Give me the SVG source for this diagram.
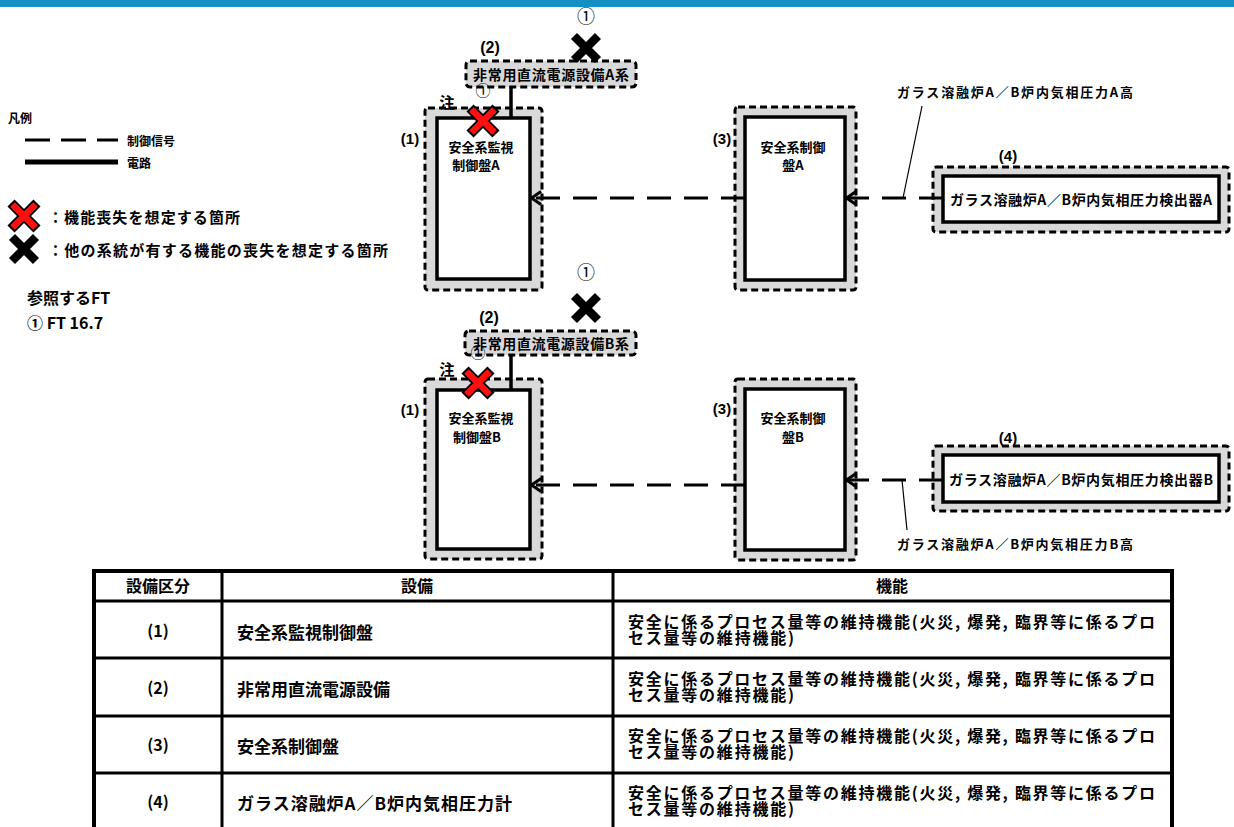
<svg xmlns="http://www.w3.org/2000/svg" xmlns:xlink="http://www.w3.org/1999/xlink" width="1234" height="827" viewBox="0 0 1234 827">
<style>
text{font-family:"Noto Sans CJK JP","Liberation Sans",sans-serif;font-weight:700;fill:#000}
.lbl{font-size:13px;text-anchor:middle;dominant-baseline:central}
.num{font-size:14px;text-anchor:middle;dominant-baseline:central;font-family:"Liberation Sans","Noto Sans CJK JP",sans-serif}
.leg{font-size:12px;dominant-baseline:central}
.leg2{font-size:15px;dominant-baseline:central}
.tb{font-size:17px;dominant-baseline:central}
.tbc{font-size:16px;dominant-baseline:central;text-anchor:middle}
.fn{font-size:16px;dominant-baseline:central}
.outer{fill:#d9d9d9;stroke:#000;stroke-width:3;stroke-dasharray:7 4}
.inner{fill:#fff;stroke:#000;stroke-width:3.5}
.sig{stroke:#000;stroke-width:3;stroke-dasharray:24 13;fill:none}
.pow{stroke:#000;stroke-width:3.5;fill:none}
.lead{stroke:#000;stroke-width:1.2;fill:none}
.tl{stroke:#000;stroke-width:3;fill:none}
</style>
<defs>
<marker id="arr" viewBox="0 0 13 16" refX="12" refY="8" markerWidth="13" markerHeight="16" orient="auto" markerUnits="userSpaceOnUse">
<path d="M2,1.5 L11.5,8 L2,14.5" style="fill:none;stroke:#000;stroke-width:3;stroke-dasharray:none"/>
</marker>
<g id="xred">
<path d="M-13,-13 L13,13 M13,-13 L-13,13" stroke="#000" stroke-width="10"/>
<path d="M-11.5,-11.5 L11.5,11.5 M11.5,-11.5 L-11.5,11.5" stroke="#ff1010" stroke-width="6.5"/>
</g>
<g id="xblk">
<path d="M-12,-12 L12,12 M12,-12 L-12,12" stroke="#000" stroke-width="8.5"/>
</g>
</defs>
<rect x="0" y="0" width="1234" height="827" fill="#fff"/>
<rect x="0" y="0" width="1234" height="7" fill="#1590c2"/>

<g id="legend">
<text x="8" y="117" class="leg">凡例</text>
<line x1="25" y1="140" x2="118" y2="140" stroke="#000" stroke-width="3" stroke-dasharray="25 11"/>
<text x="127" y="140" class="leg">制御信号</text>
<line x1="25" y1="162" x2="118" y2="162" stroke="#000" stroke-width="5"/>
<text x="127" y="162" class="leg">電路</text>
<use xlink:href="#xred" x="24" y="216"/>
<text x="48" y="216" class="leg2" textLength="192">：機能喪失を想定する箇所</text>
<use xlink:href="#xblk" x="24" y="249"/>
<text x="48" y="249" class="leg2" textLength="340">：他の系統が有する機能の喪失を想定する箇所</text>
<text x="27" y="297" style="font-size:16px;dominant-baseline:central">参照するFT</text>
<text x="27" y="322" style="font-size:16px;dominant-baseline:central">① FT 16.7</text>
</g>

<g id="power-a">
<rect x="466" y="61" width="170" height="26" rx="4" class="outer"/>
<text x="551" y="74" class="lbl" style="font-size:14px" textLength="156">非常用直流電源設備A系</text>
<text x="490" y="47" class="num" style="font-size:16px">(2)</text>
</g>
<g id="fault-a">
<text x="586" y="17" class="num" style="font-size:18px;font-weight:400">①</text>
<use xlink:href="#xblk" x="586" y="48"/>
</g>
<g id="panel1-a">
<rect x="425" y="108" width="117" height="182" rx="3" class="outer"/>
<rect x="437" y="118" width="93" height="161" class="inner"/>
<text x="481" y="146" class="lbl">安全系監視</text>
<text x="476" y="164" class="lbl">制御盤A</text>
<text x="410" y="138" class="num" style="font-size:15px">(1)</text>
<text x="447" y="101" class="lbl" style="font-size:15px">注</text>
<text x="483" y="90" class="num" style="font-size:15px;font-weight:400">①</text>
<use xlink:href="#xred" x="483" y="121"/>
</g>
<g id="panel3-a">
<rect x="735" y="107" width="121" height="183" rx="3" class="outer"/>
<rect x="745" y="117" width="100" height="163" class="inner"/>
<text x="793" y="146" class="lbl">安全系制御</text>
<text x="793" y="164" class="lbl">盤A</text>
<text x="722" y="138" class="num" style="font-size:15px">(3)</text>
</g>
<g id="detector-a">
<rect x="933" y="167" width="296" height="65" rx="3" class="outer"/>
<rect x="943" y="176" width="276" height="46" class="inner"/>
<text x="1081" y="199" class="lbl" style="font-size:14px" textLength="262">ガラス溶融炉A／B炉内気相圧力検出器A</text>
<text x="1008" y="155" class="num" style="font-size:15px">(4)</text>
<text x="1015" y="91" class="lbl" style="font-size:13px" textLength="236">ガラス溶融炉A／B炉内気相圧力A高</text>
</g>

<g id="power-b">
<rect x="465" y="331" width="171" height="24" rx="4" class="outer"/>
<text x="551" y="343" class="lbl" style="font-size:14px" textLength="156">非常用直流電源設備B系</text>
<text x="489" y="317" class="num" style="font-size:16px">(2)</text>
</g>
<g id="fault-b">
<text x="586" y="273" class="num" style="font-size:18px;font-weight:400">①</text>
<use xlink:href="#xblk" x="586" y="308"/>
</g>
<g id="panel1-b">
<rect x="425" y="379" width="117" height="180" rx="3" class="outer"/>
<rect x="437" y="390" width="93" height="159" class="inner"/>
<text x="481" y="417" class="lbl">安全系監視</text>
<text x="477" y="436" class="lbl">制御盤B</text>
<text x="410" y="409" class="num" style="font-size:15px">(1)</text>
<text x="447" y="368" class="lbl" style="font-size:15px">注</text>
<text x="478" y="352" class="num" style="font-size:15px;font-weight:400">①</text>
<use xlink:href="#xred" x="478" y="383"/>
</g>
<g id="panel3-b">
<rect x="735" y="379" width="121" height="181" rx="3" class="outer"/>
<rect x="745" y="389" width="100" height="161" class="inner"/>
<text x="793" y="417" class="lbl">安全系制御</text>
<text x="793" y="436" class="lbl">盤B</text>
<text x="722" y="408" class="num" style="font-size:15px">(3)</text>
</g>
<g id="detector-b">
<rect x="933" y="446" width="296" height="65" rx="3" class="outer"/>
<rect x="943" y="455" width="276" height="47" class="inner"/>
<text x="1081" y="479" class="lbl" style="font-size:14px" textLength="264">ガラス溶融炉A／B炉内気相圧力検出器B</text>
<text x="1008" y="437" class="num" style="font-size:15px">(4)</text>
<text x="1015" y="543" class="lbl" style="font-size:13px" textLength="236">ガラス溶融炉A／B炉内気相圧力B高</text>
</g>

<g id="connectors">
<line x1="511" y1="87" x2="511" y2="118" class="pow"/>
<line x1="511" y1="355" x2="511" y2="390" class="pow"/>
<line x1="745" y1="198" x2="531" y2="198" class="sig" marker-end="url(#arr)"/>
<line x1="943" y1="198" x2="846" y2="198" class="sig" marker-end="url(#arr)"/>
<line x1="745" y1="485" x2="531" y2="485" class="sig" marker-end="url(#arr)"/>
<line x1="943" y1="480" x2="846" y2="480" class="sig" marker-end="url(#arr)"/>
<line x1="922" y1="106" x2="903" y2="198" class="lead"/>
<line x1="902" y1="480" x2="907" y2="530" class="lead"/>
</g>

<g id="table">
<rect x="94" y="571" width="1078" height="270" fill="#fff" stroke="#000" stroke-width="4"/>
<line x1="222" y1="571" x2="222" y2="841" class="tl"/>
<line x1="613" y1="571" x2="613" y2="841" class="tl"/>
<line x1="94" y1="601" x2="1172" y2="601" class="tl"/>
<line x1="94" y1="658" x2="1172" y2="658" class="tl"/>
<line x1="94" y1="716" x2="1172" y2="716" class="tl"/>
<line x1="94" y1="773" x2="1172" y2="773" class="tl"/>
<text x="158" y="585" class="tbc">設備区分</text>
<text x="417" y="585" class="tbc">設備</text>
<text x="892" y="585" class="tbc">機能</text>
<text x="158" y="630" class="tbc">(1)</text>
<text x="158" y="687" class="tbc">(2)</text>
<text x="158" y="744" class="tbc">(3)</text>
<text x="158" y="801" class="tbc">(4)</text>
<text x="237" y="631" class="tb">安全系監視制御盤</text>
<text x="237" y="688" class="tb">非常用直流電源設備</text>
<text x="237" y="745" class="tb">安全系制御盤</text>
<text x="237" y="802" class="tb" textLength="275">ガラス溶融炉A／B炉内気相圧力計</text>
<text x="628" y="621" class="fn" textLength="527">安全に係るプロセス量等の維持機能(火災, 爆発, 臨界等に係るプロ</text>
<text x="628" y="637" class="fn" textLength="166">セス量等の維持機能)</text>
<text x="628" y="678" class="fn" textLength="527">安全に係るプロセス量等の維持機能(火災, 爆発, 臨界等に係るプロ</text>
<text x="628" y="694" class="fn" textLength="166">セス量等の維持機能)</text>
<text x="628" y="735" class="fn" textLength="527">安全に係るプロセス量等の維持機能(火災, 爆発, 臨界等に係るプロ</text>
<text x="628" y="751" class="fn" textLength="166">セス量等の維持機能)</text>
<text x="628" y="792" class="fn" textLength="527">安全に係るプロセス量等の維持機能(火災, 爆発, 臨界等に係るプロ</text>
<text x="628" y="808" class="fn" textLength="166">セス量等の維持機能)</text>
</g>
</svg>
